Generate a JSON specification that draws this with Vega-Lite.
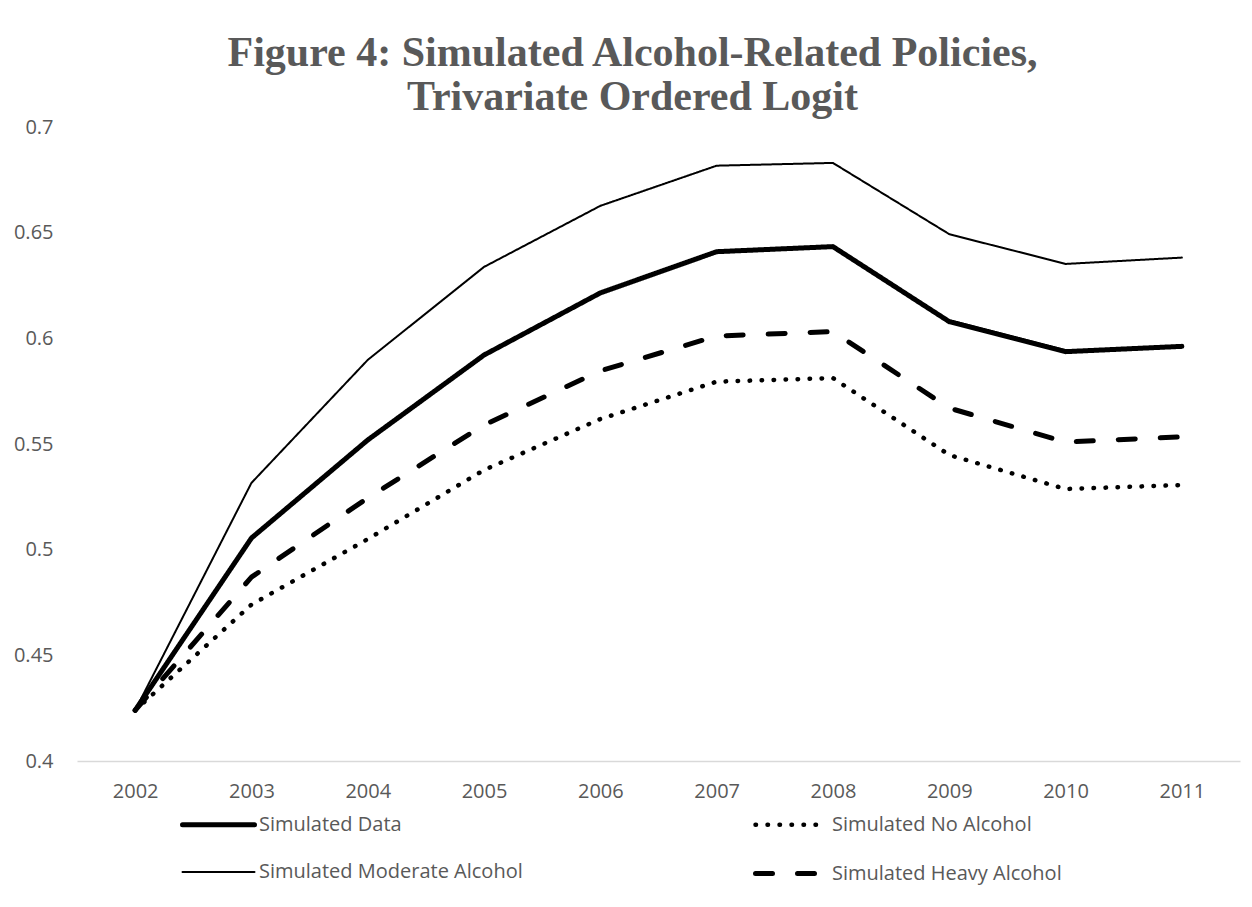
{
  "$schema": "https://vega.github.io/schema/vega-lite/v6.json",
  "width": 1163,
  "height": 634,
  "autosize": {"type": "none"},
  "padding": {"left": 77, "top": 127, "right": 12, "bottom": 146},
  "background": "white",
  "title": {
    "text": ["Figure 4: Simulated Alcohol-Related Policies,", "Trivariate Ordered Logit"],
    "font": "Liberation Serif",
    "fontSize": 42,
    "fontWeight": "bold",
    "color": "#595959",
    "anchor": "middle",
    "lineHeight": 44,
    "offset": -2,
    "dx": -26
  },
  "data": {
    "values": [
      {"year": "2002", "series": "Simulated Data", "value": 0.424},
      {"year": "2003", "series": "Simulated Data", "value": 0.5055},
      {"year": "2004", "series": "Simulated Data", "value": 0.5519},
      {"year": "2005", "series": "Simulated Data", "value": 0.5921},
      {"year": "2006", "series": "Simulated Data", "value": 0.6215},
      {"year": "2007", "series": "Simulated Data", "value": 0.641},
      {"year": "2008", "series": "Simulated Data", "value": 0.6434},
      {"year": "2009", "series": "Simulated Data", "value": 0.6079},
      {"year": "2010", "series": "Simulated Data", "value": 0.5937},
      {"year": "2011", "series": "Simulated Data", "value": 0.5962},
      {"year": "2002", "series": "Simulated No Alcohol", "value": 0.424},
      {"year": "2003", "series": "Simulated No Alcohol", "value": 0.474},
      {"year": "2004", "series": "Simulated No Alcohol", "value": 0.505},
      {"year": "2005", "series": "Simulated No Alcohol", "value": 0.5377},
      {"year": "2006", "series": "Simulated No Alcohol", "value": 0.5618},
      {"year": "2007", "series": "Simulated No Alcohol", "value": 0.5795},
      {"year": "2008", "series": "Simulated No Alcohol", "value": 0.5812},
      {"year": "2009", "series": "Simulated No Alcohol", "value": 0.5448},
      {"year": "2010", "series": "Simulated No Alcohol", "value": 0.5287},
      {"year": "2011", "series": "Simulated No Alcohol", "value": 0.5306},
      {"year": "2002", "series": "Simulated Moderate Alcohol", "value": 0.424},
      {"year": "2003", "series": "Simulated Moderate Alcohol", "value": 0.5316},
      {"year": "2004", "series": "Simulated Moderate Alcohol", "value": 0.5898},
      {"year": "2005", "series": "Simulated Moderate Alcohol", "value": 0.6338},
      {"year": "2006", "series": "Simulated Moderate Alcohol", "value": 0.6627},
      {"year": "2007", "series": "Simulated Moderate Alcohol", "value": 0.6817},
      {"year": "2008", "series": "Simulated Moderate Alcohol", "value": 0.683},
      {"year": "2009", "series": "Simulated Moderate Alcohol", "value": 0.6493},
      {"year": "2010", "series": "Simulated Moderate Alcohol", "value": 0.6352},
      {"year": "2011", "series": "Simulated Moderate Alcohol", "value": 0.6382},
      {"year": "2002", "series": "Simulated Heavy Alcohol", "value": 0.424},
      {"year": "2003", "series": "Simulated Heavy Alcohol", "value": 0.487},
      {"year": "2004", "series": "Simulated Heavy Alcohol", "value": 0.5245},
      {"year": "2005", "series": "Simulated Heavy Alcohol", "value": 0.559},
      {"year": "2006", "series": "Simulated Heavy Alcohol", "value": 0.5846},
      {"year": "2007", "series": "Simulated Heavy Alcohol", "value": 0.6011},
      {"year": "2008", "series": "Simulated Heavy Alcohol", "value": 0.6032},
      {"year": "2009", "series": "Simulated Heavy Alcohol", "value": 0.567},
      {"year": "2010", "series": "Simulated Heavy Alcohol", "value": 0.5509},
      {"year": "2011", "series": "Simulated Heavy Alcohol", "value": 0.5534}
    ]
  },
  "mark": {"type": "line", "color": "black", "strokeCap": "round", "strokeJoin": "round"},
  "encoding": {
    "x": {
      "field": "year",
      "type": "ordinal",
      "scale": {"padding": 0.5},
      "axis": {
        "title": null,
        "labelAngle": 0,
        "labelFont": "Open Sans",
        "labelFontSize": 20,
        "labelColor": "#595959",
        "labelPadding": 20,
        "ticks": false,
        "grid": false,
        "domainColor": "#d9d9d9",
        "domainWidth": 1.5
      }
    },
    "y": {
      "field": "value",
      "type": "quantitative",
      "scale": {"domain": [0.4, 0.7], "nice": false, "zero": false},
      "axis": {
        "title": null,
        "values": [0.4, 0.45, 0.5, 0.55, 0.6, 0.65, 0.7],
        "format": "~g",
        "domain": false,
        "ticks": false,
        "grid": false,
        "labelFont": "Open Sans",
        "labelFontSize": 20,
        "labelColor": "#595959",
        "labelPadding": 24
      }
    },
    "strokeDash": {
      "field": "series",
      "type": "ordinal",
      "scale": {
        "type": "ordinal",
        "domain": ["Simulated Data", "Simulated No Alcohol", "Simulated Moderate Alcohol", "Simulated Heavy Alcohol"],
        "range": [[1, 0], [0.5, 11.5], [1, 0], [17, 25]]
      },
      "legend": {
        "title": null,
        "orient": "none",
        "legendX": 103,
        "legendY": 659,
        "direction": "horizontal",
        "columns": 2,
        "columnPadding": 222,
        "rowPadding": -45,
        "symbolType": "stroke",
        "symbolSize": 5184,
        "symbolStrokeColor": "black",
        "labelFont": "Open Sans",
        "labelFontSize": 20,
        "labelColor": "#595959",
        "labelOffset": 2,
        "labelLimit": 0,
        "encode": {"symbols": {"update": {"strokeCap": {"value": "round"}}}}
      }
    },
    "strokeWidth": {
      "field": "series",
      "type": "ordinal",
      "scale": {
        "type": "ordinal",
        "domain": ["Simulated Data", "Simulated No Alcohol", "Simulated Moderate Alcohol", "Simulated Heavy Alcohol"],
        "range": [5, 4.5, 2, 5]
      },
      "legend": {
        "title": null,
        "orient": "none",
        "legendX": 103,
        "legendY": 659,
        "direction": "horizontal",
        "columns": 2,
        "columnPadding": 222,
        "rowPadding": -45,
        "symbolType": "stroke",
        "symbolSize": 5184,
        "symbolStrokeColor": "black",
        "labelFont": "Open Sans",
        "labelFontSize": 20,
        "labelColor": "#595959",
        "labelOffset": 2,
        "labelLimit": 0,
        "encode": {"symbols": {"update": {"strokeCap": {"value": "round"}}}}
      }
    }
  },
  "config": {
    "view": {"stroke": null}
  }
}
